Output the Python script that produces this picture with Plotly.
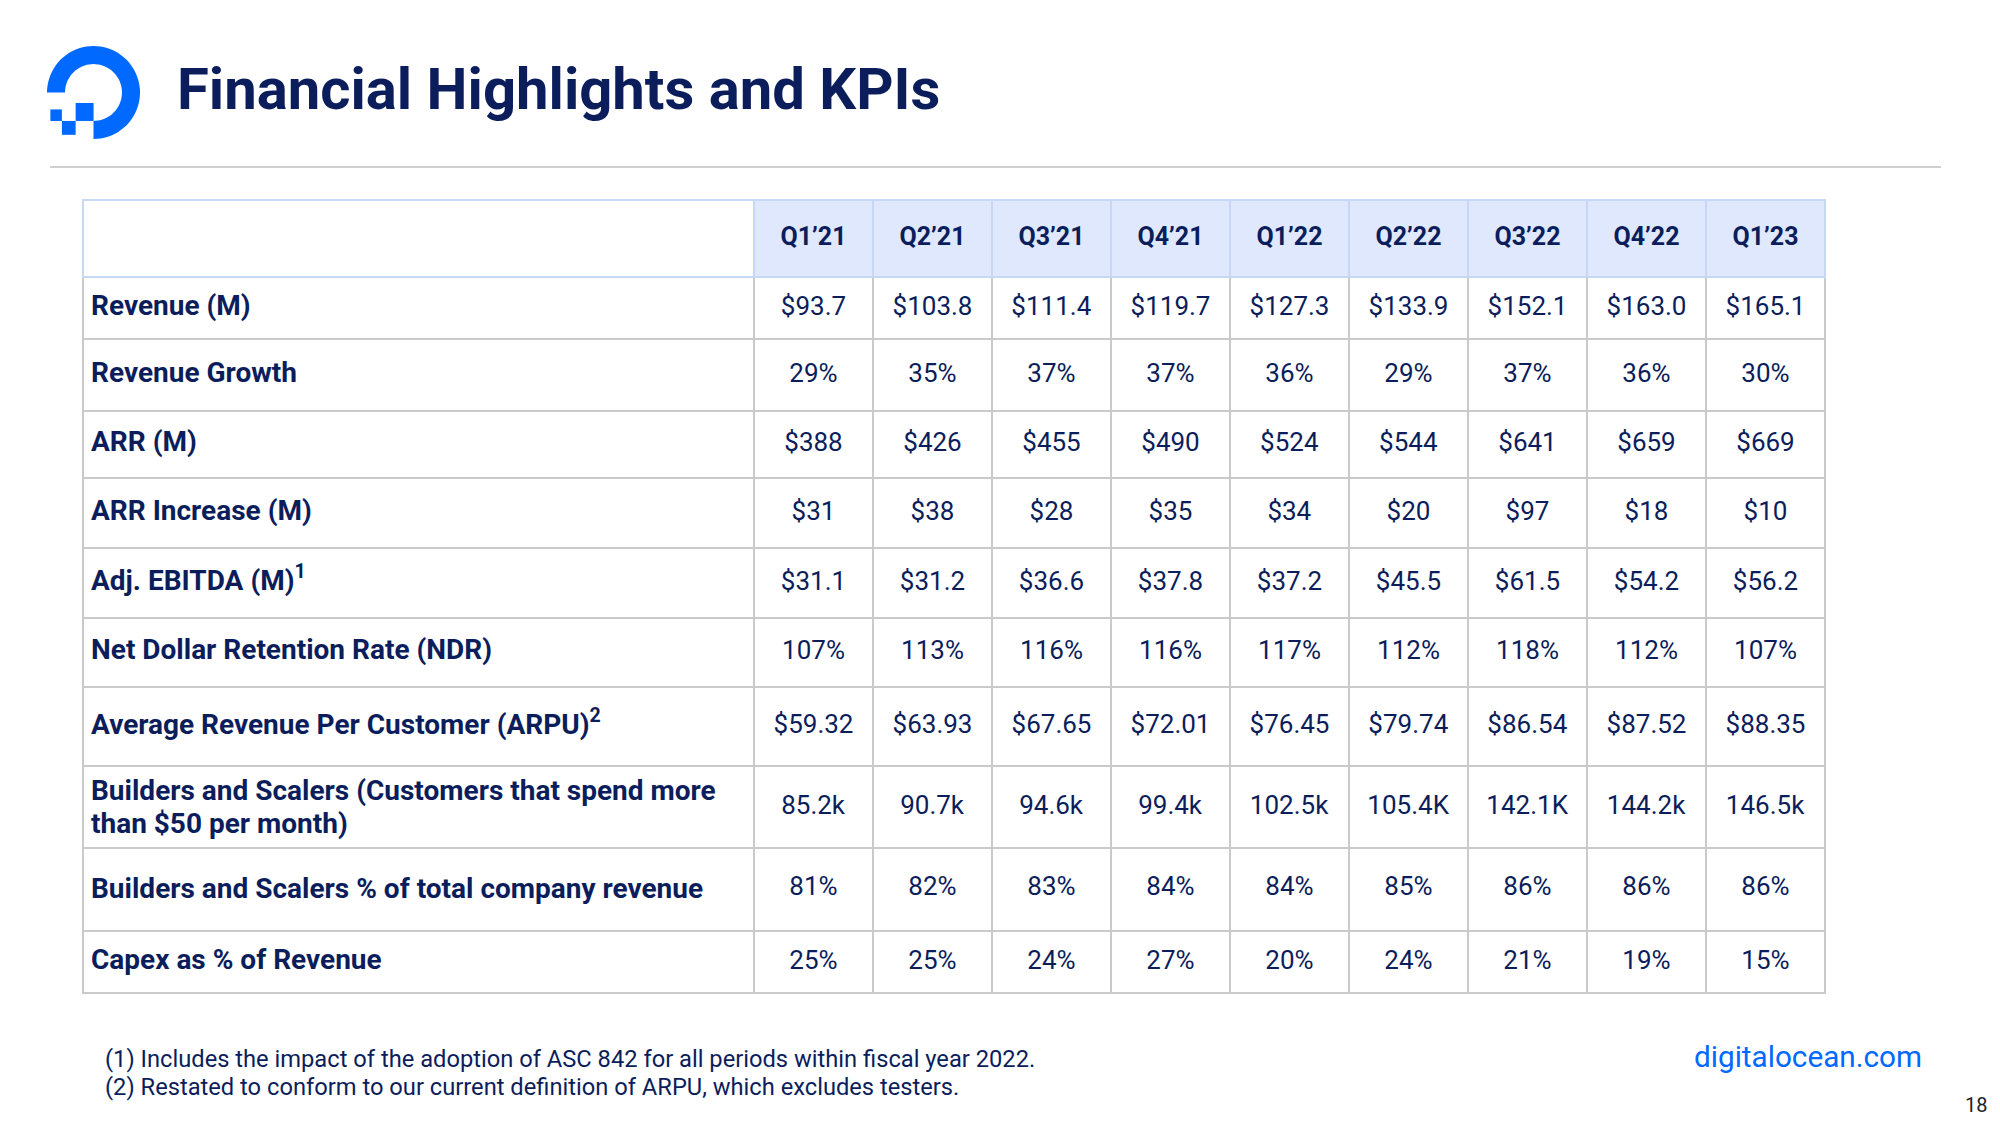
import math
import plotly.graph_objects as go

# ---------------- data ----------------
quarters = ["Q1’21", "Q2’21", "Q3’21", "Q4’21", "Q1’22", "Q2’22", "Q3’22", "Q4’22", "Q1’23"]
metrics = [
    "Revenue (M)",
    "Revenue Growth",
    "ARR (M)",
    "ARR Increase (M)",
    "Adj. EBITDA (M)<sup>1</sup>",
    "Net Dollar Retention Rate (NDR)",
    "Average Revenue Per Customer (ARPU)<sup>2</sup>",
    "Builders and Scalers (Customers that spend more<br>than $50 per month)",
    "Builders and Scalers % of total company revenue",
    "Capex as % of Revenue",
]
revenue = ["$93.7", "$103.8", "$111.4", "$119.7", "$127.3", "$133.9", "$152.1", "$163.0", "$165.1"]
revenue_growth = ["29%", "35%", "37%", "37%", "36%", "29%", "37%", "36%", "30%"]
arr = ["$388", "$426", "$455", "$490", "$524", "$544", "$641", "$659", "$669"]
arr_increase = ["$31", "$38", "$28", "$35", "$34", "$20", "$97", "$18", "$10"]
adj_ebitda = ["$31.1", "$31.2", "$36.6", "$37.8", "$37.2", "$45.5", "$61.5", "$54.2", "$56.2"]
ndr = ["107%", "113%", "116%", "116%", "117%", "112%", "118%", "112%", "107%"]
arpu = ["$59.32", "$63.93", "$67.65", "$72.01", "$76.45", "$79.74", "$86.54", "$87.52", "$88.35"]
builders_scalers = ["85.2k", "90.7k", "94.6k", "99.4k", "102.5k", "105.4K", "142.1K", "144.2k", "146.5k"]
bs_revenue_share = ["81%", "82%", "83%", "84%", "84%", "85%", "86%", "86%", "86%"]
capex_pct = ["25%", "25%", "24%", "27%", "20%", "24%", "21%", "19%", "15%"]

title_text = "Financial Highlights and KPIs"
footnotes = [
    "(1) Includes the impact of the adoption of ASC 842 for all periods within fiscal year 2022.",
    "(2) Restated to conform to our current definition of ARPU, which excludes testers.",
]
site_text = "digitalocean.com"
page_text = "18"

# ---------------- style ----------------
W, H = 2000, 1125
NAVY = "#0B1E5B"
BLUE = "#0069FF"
HEAD_FILL = "#DFE8FC"
HEAD_LINE = "#C6D8F6"
GRID = "#CACACA"
FONT = "Roboto"

LABEL_PX = 28
VALUE_PX = 26
HEAD_PX = 25
ASC, DESC, CAP = 0.928, 0.244, 0.711     # Roboto metrics (em)
CELL_PAD = 8                             # plotly table cell padding
LIFT = 3                                 # text sits slightly above mid-row
# target height (px) of each body row on the slide
ROW_PX = [62, 72, 67, 70, 70, 69, 78, 82, 80, 62]

# Plotly table text sits at the top of each cell.  Invisible spacer lines
# (no-break spaces at chosen sizes) above / below the shown line both
# centre the text and give every row its own height.
LABEL_STEP = 11.0                        # line step of the label column
LABEL_BASE = LABEL_STEP / 1.3
VALUE_BASE = 15.0
VALUE_STEP = 1.3 * VALUE_BASE

rows = [revenue, revenue_growth, arr, arr_increase, adj_ebitda, ndr, arpu,
        builders_scalers, bs_revenue_share, capex_pct]


def spacer(px):
    return f"<span style=\"font-size:{px:.2f}px\">\u00a0</span>"


def label_cell(text, h):
    if "<br>" in text:
        first, second = text.split("<br>")
        gap = "<br>" * 3
        return (f"<span style=\"font-size:{LABEL_PX}px\"><b>{first}</b></span>{gap}"
                f"<span style=\"font-size:{LABEL_PX}px\"><b>{second}</b></span>")
    half_cap = CAP * LABEL_PX / 2
    y = max(h - 16 - 2 * LABEL_STEP - 2 * (half_cap - LIFT), 0) / (2 * DESC)
    x = (half_cap - LIFT + DESC * y / 2) / (ASC / 2)
    return (f"{spacer(x)}<br><span style=\"font-size:{LABEL_PX}px\"><b>{text}</b></span>"
            f"<br>{spacer(y)}")


def value_cell(text, h):
    half_cap = CAP * VALUE_PX / 2
    x = (h / 2 - LIFT + half_cap - CELL_PAD - VALUE_STEP) / ASC
    return f"{spacer(max(x, 0.5))}<br><span style=\"font-size:{VALUE_PX}px\">{text}</span>"


def head_cell(text, h):
    half_cap = CAP * HEAD_PX / 2
    x = (h / 2 - LIFT + half_cap - CELL_PAD - 1.3 * HEAD_PX) / ASC
    return f"{spacer(max(x, 0.5))}<br><b>{text}</b>"


# the two-line label sets its own row height
two_line_h = 2 * CELL_PAD + ASC * LABEL_PX + 3 * LABEL_STEP + DESC * LABEL_PX
row_h = [two_line_h if "<br>" in m else h for m, h in zip(metrics, ROW_PX)]

label_cells = [label_cell(m, h) for m, h in zip(metrics, row_h)]
value_columns = [[value_cell(r[i], h) for r, h in zip(rows, row_h)] for i in range(len(quarters))]

HEAD_H = 77

fig = go.Figure()

# hidden pixel-space axes for the slide decorations
fig.add_trace(go.Scatter(x=[0, W], y=[0, H], mode="markers",
                         marker=dict(opacity=0), hoverinfo="skip", showlegend=False))

fig.add_trace(go.Table(
    domain=dict(x=[83 / W, 1825 / W], y=[1 - 1020 / H, 1 - 200 / H]),
    columnwidth=[671] + [119] * len(quarters),
    header=dict(
        values=[""] + [head_cell(q, HEAD_H) for q in quarters],
        fill_color=["white"] + [HEAD_FILL] * len(quarters),
        line=dict(color=HEAD_LINE, width=2),
        font=dict(family=FONT, size=HEAD_PX, color=NAVY),
        align="center",
        height=HEAD_H,
    ),
    cells=dict(
        values=[label_cells] + value_columns,
        fill_color="white",
        line=dict(color=GRID, width=2),
        font=dict(family=FONT, size=[LABEL_BASE] + [VALUE_BASE] * len(quarters), color=NAVY),
        align=["left"] + ["center"] * len(quarters),
        height=40,
    ),
))

# logo (DigitalOcean mark), 100-unit design scaled into pixel space
s, ox, oy = 0.93, 47, 46


def P(x, y):
    return f"{ox + x * s:.2f},{oy + y * s:.2f}"


def ring_path():
    cx, cy, ro, ri = 50, 50, 50, 30.6
    pts = []
    n = 60
    for k in range(n + 1):
        a = math.pi + k * (1.5 * math.pi) / n
        pts.append((cx + ro * math.cos(a), cy + ro * math.sin(a)))
    for k in range(n + 1):
        a = math.pi + 1.5 * math.pi - k * (1.5 * math.pi) / n
        pts.append((cx + ri * math.cos(a), cy + ri * math.sin(a)))
    return "M" + " L".join(P(x, y) for x, y in pts) + " Z"


def sq(x0, x1, y0, y1):
    return dict(type="rect", x0=ox + x0 * s, x1=ox + x1 * s, y0=oy + y0 * s, y1=oy + y1 * s,
                xref="x", yref="y", fillcolor=BLUE, line=dict(width=0))


shapes = [
    dict(type="path", path=ring_path(), xref="x", yref="y", fillcolor=BLUE, line=dict(width=0)),
    sq(30.8, 50.1, 61.3, 80.6),
    sq(16, 30.8, 80.6, 95.5),
    sq(3.6, 16, 68.2, 80.6),
    dict(type="line", x0=50, x1=1941, y0=167, y1=167, xref="x", yref="y",
         line=dict(color="#CFCFCF", width=2)),
]

annotations = [
    dict(text=f"<b>{title_text}</b>", x=175, y=89, xref="x", yref="y", xanchor="left", yanchor="middle",
         showarrow=False, font=dict(family=FONT, size=58, color=NAVY)),
    dict(text=footnotes[0], x=103, y=1059, xref="x", yref="y", xanchor="left", yanchor="middle",
         showarrow=False, font=dict(family=FONT, size=23.7, color=NAVY)),
    dict(text=footnotes[1], x=103, y=1087, xref="x", yref="y", xanchor="left", yanchor="middle",
         showarrow=False, font=dict(family=FONT, size=23.7, color=NAVY)),
    dict(text=site_text, x=1692, y=1056, xref="x", yref="y", xanchor="left", yanchor="middle",
         showarrow=False, font=dict(family=FONT, size=29.7, color=BLUE)),
    dict(text=page_text, x=1989, y=1105, xref="x", yref="y", xanchor="right", yanchor="middle",
         showarrow=False, font=dict(family=FONT, size=20, color="#222222")),
]

fig.update_layout(
    width=W, height=H,
    margin=dict(l=0, r=0, t=0, b=0),
    paper_bgcolor="white", plot_bgcolor="white",
    xaxis=dict(range=[0, W], visible=False, fixedrange=True),
    yaxis=dict(range=[H, 0], visible=False, fixedrange=True),
    shapes=shapes,
    annotations=annotations,
    showlegend=False,
)

fig.write_html("out.html", config={"displayModeBar": False},
               post_script="document.body.style.margin='0px';")
